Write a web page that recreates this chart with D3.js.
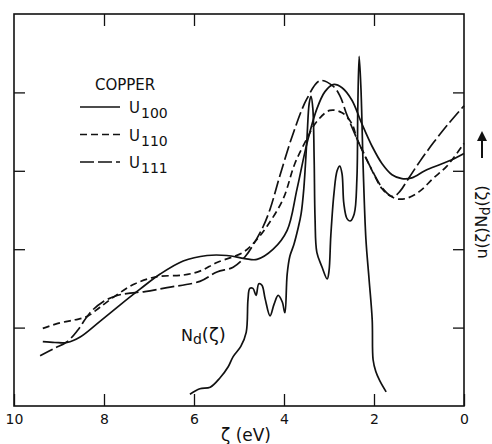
<!DOCTYPE html>
<html>
<head>
<meta charset="utf-8">
<script src="https://cdn.jsdelivr.net/npm/d3@7"></script>
<style>
  body { margin: 0; background: #fff; }
  svg { display: block; }
  text { font-family: "DejaVu Sans", sans-serif; fill: #111; }
</style>
</head>
<body>
<svg id="chart" width="492" height="444"></svg>
<script>
// energy ζ (eV) against u(ζ)·N_d(ζ), arbitrary units
const xTicks = [10, 8, 6, 4, 2, 0];
const yTicks = [1, 2, 3, 4];

const u100 = [
  [9.36, 0.82], [9.09, 0.81], [8.82, 0.81], [8.53, 0.88], [8.09, 1.08], [7.64, 1.29],
  [7.2, 1.49], [6.76, 1.68], [6.24, 1.85], [5.71, 1.92], [5.27, 1.92], [4.87, 1.88],
  [4.6, 1.87], [4.24, 2.0], [3.93, 2.24], [3.71, 2.77], [3.49, 3.35], [3.27, 3.79],
  [3.09, 4.01], [2.91, 4.1], [2.71, 4.06], [2.49, 3.9], [2.27, 3.6], [2.04, 3.31],
  [1.82, 3.09], [1.6, 2.95], [1.38, 2.9], [1.16, 2.91], [0.87, 3.0], [0.53, 3.08],
  [0.27, 3.14], [0.0, 3.22]
];

const u110 = [
  [9.36, 0.99], [8.98, 1.06], [8.64, 1.1], [8.38, 1.14], [8.09, 1.26], [7.71, 1.42],
  [7.31, 1.56], [6.82, 1.65], [6.24, 1.67], [5.87, 1.72], [5.49, 1.83], [4.91, 1.96],
  [4.64, 2.1], [4.38, 2.29], [4.02, 2.64], [3.76, 3.09], [3.49, 3.41], [3.27, 3.63],
  [2.98, 3.77], [2.71, 3.74], [2.49, 3.6], [2.38, 3.41], [2.24, 3.24], [2.04, 3.0],
  [1.82, 2.77], [1.64, 2.68], [1.47, 2.64], [1.27, 2.65], [0.98, 2.74], [0.69, 2.9],
  [0.38, 3.06], [0.0, 3.35]
];

const u111 = [
  [9.42, 0.64], [9.09, 0.74], [8.82, 0.82], [8.58, 0.97], [8.31, 1.19], [8.02, 1.33],
  [7.71, 1.41], [7.42, 1.44], [7.09, 1.46], [6.6, 1.51], [5.87, 1.59], [5.49, 1.71],
  [5.13, 1.77], [4.87, 1.9], [4.64, 2.1], [4.47, 2.28], [4.31, 2.51], [4.09, 2.94],
  [3.8, 3.47], [3.49, 3.92], [3.2, 4.15], [2.91, 4.08], [2.76, 3.96], [2.6, 3.71],
  [2.38, 3.41], [2.09, 3.06], [1.8, 2.77], [1.58, 2.67], [1.42, 2.74], [1.27, 2.87],
  [0.98, 3.12], [0.69, 3.35], [0.36, 3.59], [0.0, 3.83]
];

// d-band density of states
const nd = [
  [6.09, 0.15], [5.87, 0.22], [5.64, 0.24], [5.42, 0.36], [5.24, 0.5], [5.13, 0.63],
  [4.96, 0.76], [4.84, 0.94], [4.8, 1.36], [4.76, 1.5], [4.69, 1.5], [4.62, 1.41],
  [4.56, 1.56], [4.49, 1.54], [4.42, 1.37], [4.31, 1.15], [4.22, 1.3], [4.13, 1.41],
  [4.04, 1.33], [3.98, 1.19], [3.93, 1.68], [3.87, 1.91], [3.78, 2.06], [3.69, 2.26],
  [3.62, 2.45], [3.56, 2.77], [3.49, 3.41], [3.44, 3.86], [3.4, 3.95], [3.36, 3.8],
  [3.33, 3.15], [3.31, 2.39], [3.27, 1.96], [3.16, 1.78], [3.04, 1.62], [3.0, 1.72],
  [2.96, 2.17], [2.89, 2.71], [2.82, 3.0], [2.76, 3.06], [2.71, 2.96], [2.67, 2.58],
  [2.6, 2.39], [2.53, 2.36], [2.44, 2.45], [2.38, 2.9], [2.36, 3.8], [2.33, 4.46],
  [2.29, 4.05], [2.24, 3.03], [2.18, 2.13], [2.11, 1.62], [2.04, 1.1], [2.02, 0.59],
  [1.96, 0.44], [1.87, 0.32], [1.73, 0.18]
];

const seriesNames = ['100', '110', '111'];
const seriesData = [u100, u110, u111];
const dashes = [null, '7,4', '14,4'];

const svg = d3.select('#chart');
const plotLeft = 14, plotRight = 464, plotTop = 14, plotBottom = 406;

const x = d3.scaleLinear().domain([10, 0]).range([plotLeft, plotRight]);
const y = d3.scaleLinear().domain([0, 5]).range([plotBottom, plotTop]);

const ink = '#111';

// axes with inward ticks, labels only along the bottom
svg.append('g')
  .attr('transform', `translate(0,${plotBottom})`)
  .call(d3.axisBottom(x).tickValues(xTicks).tickSize(-12).tickSizeOuter(0).tickPadding(8)
    .tickFormat(d3.format('d')))
  .call(g => g.select('.domain').remove())
  .call(g => g.selectAll('line').attr('stroke', ink).attr('stroke-width', 1.3))
  .call(g => g.selectAll('text').attr('font-size', 14).attr('fill', ink));

svg.append('g')
  .attr('transform', `translate(0,${plotTop})`)
  .call(d3.axisTop(x).tickValues(xTicks.slice(1, -1)).tickSize(-12).tickSizeOuter(0).tickFormat(''))
  .call(g => g.select('.domain').remove())
  .call(g => g.selectAll('line').attr('stroke', ink).attr('stroke-width', 1.3));

svg.append('g')
  .attr('transform', `translate(${plotLeft},0)`)
  .call(d3.axisLeft(y).tickValues(yTicks).tickSize(-11).tickSizeOuter(0).tickFormat(''))
  .call(g => g.select('.domain').remove())
  .call(g => g.selectAll('line').attr('stroke', ink).attr('stroke-width', 1.3));

svg.append('g')
  .attr('transform', `translate(${plotRight},0)`)
  .call(d3.axisRight(y).tickValues(yTicks).tickSize(-11).tickSizeOuter(0).tickFormat(''))
  .call(g => g.select('.domain').remove())
  .call(g => g.selectAll('line').attr('stroke', ink).attr('stroke-width', 1.3));

svg.append('rect')
  .attr('x', plotLeft).attr('y', plotTop)
  .attr('width', plotRight - plotLeft).attr('height', plotBottom - plotTop)
  .attr('fill', 'none').attr('stroke', ink).attr('stroke-width', 1.6);

const line = d3.line()
  .x(d => x(d[0]))
  .y(d => y(d[1]))
  .curve(d3.curveCatmullRom.alpha(0.5));

seriesData.forEach((s, i) => {
  svg.append('path')
    .attr('d', line(s))
    .attr('fill', 'none')
    .attr('stroke', ink)
    .attr('stroke-width', 1.7)
    .attr('stroke-dasharray', dashes[i]);
});

svg.append('path')
  .attr('d', line(nd))
  .attr('fill', 'none')
  .attr('stroke', ink)
  .attr('stroke-width', 1.7)
  .attr('stroke-linejoin', 'round');

// legend
const legend = svg.append('g').attr('transform', 'translate(80,0)');
legend.append('text')
  .attr('x', 15).attr('y', 90)
  .attr('font-size', 15)
  .text('COPPER');

seriesNames.forEach((name, i) => {
  const ly = 107 + i * 27.5;
  legend.append('line')
    .attr('x1', 0).attr('x2', 40)
    .attr('y1', ly).attr('y2', ly)
    .attr('stroke', ink).attr('stroke-width', 1.7)
    .attr('stroke-dasharray', dashes[i]);
  const t = legend.append('text')
    .attr('x', 49).attr('y', ly + 6)
    .attr('font-size', 15);
  t.append('tspan').text('U');
  t.append('tspan').attr('dy', 5).attr('dx', 1).attr('font-size', 14).text(name);
});

// N_d label
const ndLabel = svg.append('text')
  .attr('x', 181).attr('y', 341)
  .attr('font-size', 16);
ndLabel.append('tspan').text('N');
ndLabel.append('tspan').attr('dy', 3).attr('font-size', 14).text('d');
ndLabel.append('tspan').attr('dy', -3).attr('font-size', 18).text('(ζ)');

// x axis title
svg.append('text')
  .attr('x', 246).attr('y', 441)
  .attr('text-anchor', 'middle')
  .attr('font-size', 17)
  .text('ζ (eV)');

// rotated right-hand title with arrow
const yTitle = svg.append('text')
  .attr('transform', 'translate(487,222) rotate(-90)')
  .attr('text-anchor', 'middle')
  .attr('font-size', 16);
yTitle.append('tspan').text('u(ζ)N');
yTitle.append('tspan').attr('dy', 3).attr('font-size', 14).text('d');
yTitle.append('tspan').attr('dy', -3).text('(ζ)');

svg.append('line')
  .attr('x1', 482).attr('x2', 482)
  .attr('y1', 158).attr('y2', 138)
  .attr('stroke', ink).attr('stroke-width', 2);
svg.append('path')
  .attr('d', 'M477,141 L482,131 L487,141 Z')
  .attr('fill', ink);
</script>
</body>
</html>
